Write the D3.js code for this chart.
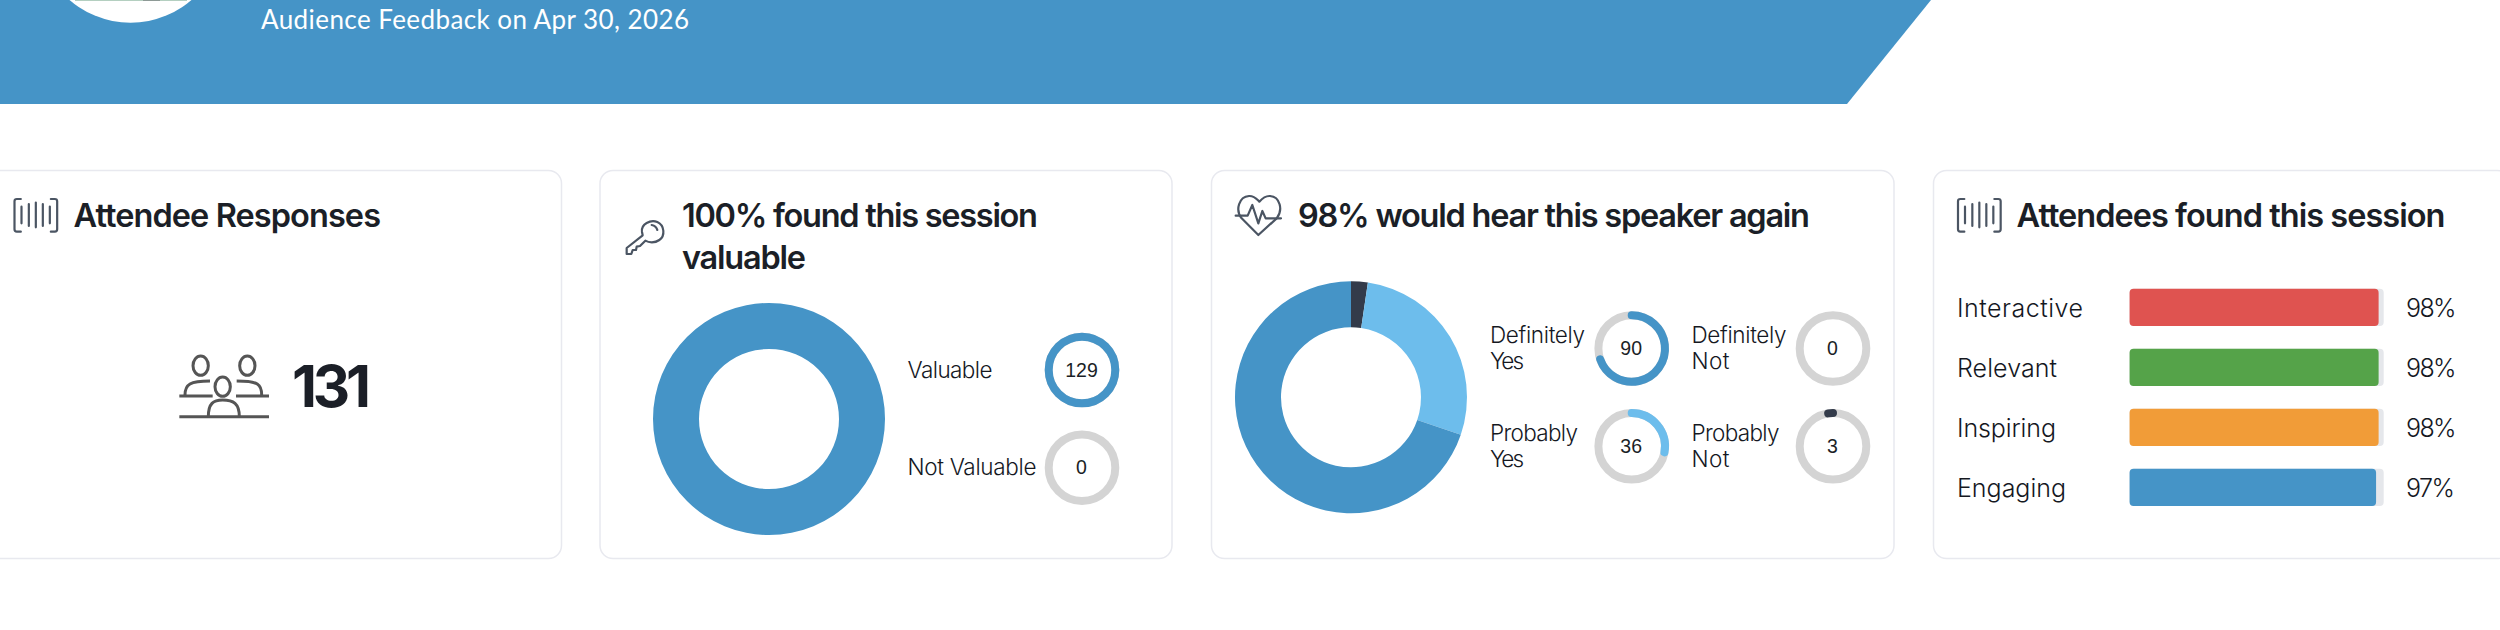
<!DOCTYPE html>
<html>
<head>
<meta charset="utf-8">
<script src="https://cdnjs.cloudflare.com/ajax/libs/d3/7.8.5/d3.min.js"></script>
<style>
  html, body { margin: 0; padding: 0; background: #fff; overflow: hidden; }
  svg { display: block; }
  text { font-family: Inter, sans-serif; fill: #1b1f27; }
  .title { font-size: 32.5px; font-weight: 600; }
  .label { font-size: 22.5px; font-weight: 300; fill: #15181f; }
  .rowlabel { font-size: 25px; font-weight: 300; fill: #15181f; }
  .num { font-family: "Liberation Sans", sans-serif; font-size: 19.5px; text-anchor: middle; }
  .icon { fill: none; stroke: #4b5563; stroke-linecap: round; stroke-linejoin: round; }
</style>
</head>
<body>
<svg id="chart" width="2500" height="630"></svg>
<script>
// Survey figures
const subtitle = "Audience Feedback on Apr 30, 2026";
const responses = 131;

const valueTitle = ["100% found this session", "valuable"];
const valueLabels = ["Valuable", "Not Valuable"];
const valueCounts = [129, 0];
const valueTotal = 129;

const againTitle = "98% would hear this speaker again";
const againLabels = [["Definitely", "Yes"], ["Probably", "Yes"], ["Definitely", "Not"], ["Probably", "Not"]];
const againCounts = [90, 36, 0, 3];
const againColors = ["#4594c7", "#6dbdec", "#d4d4d4", "#333b4a"];
const againTotal = 129;

const foundTitle = "Attendees found this session";
const foundLabels = ["Interactive", "Relevant", "Inspiring", "Engaging"];
const foundPercents = [98, 98, 98, 97];
const foundColors = ["#df5350", "#55a349", "#f19c38", "#4594c7"];

const BLUE = "#4594c7", GREY = "#d4d4d4", TRACK = "#e5e7eb";

const svg = d3.select("#chart");

// Text squeezed or stretched to a known run length
function put(parent, str, x, y, cls, len) {
  const t = parent.append("text").attr("x", x).attr("y", y).attr("class", cls).text(str);
  if (len) t.attr("textLength", len).attr("lengthAdjust", "spacing");
  return t;
}

// Header band
svg.append("path")
  .attr("d", d3.line()([[0, 0], [1931, 0], [1847, 104], [0, 104]]) + "Z")
  .attr("fill", BLUE);
svg.append("circle").attr("cx", 130.5).attr("cy", -70.6).attr("r", 93.3).attr("fill", "#fff");
svg.append("rect").attr("x", 75).attr("y", 0).attr("width", 112).attr("height", 1).attr("fill", "#b4cfc0");
svg.append("rect").attr("x", 143).attr("y", 0).attr("width", 17).attr("height", 1).attr("fill", "#8e9a96");
put(svg, subtitle, 261, 29, "", 428)
  .style("font-family", "Lato, sans-serif").style("font-size", "26px").style("font-weight", 400).style("fill", "#fff");

// Cards
const cards = [[-20, 561], [599.5, 1171.5], [1211, 1893.5], [1933, 2510]];
svg.selectAll("rect.card").data(cards).join("rect").attr("class", "card")
  .attr("x", d => d[0] + 0.5).attr("y", 170.5)
  .attr("width", d => d[1] - d[0]).attr("height", 388).attr("rx", 13)
  .attr("fill", "#fff").attr("stroke", "#e8e9ef").attr("stroke-width", 1.5);

// Icons, drawn on a 3x grid and scaled down
function icon(x, y, sw) {
  return svg.append("g").attr("class", "icon")
    .attr("transform", `translate(${x},${y}) scale(${1 / 3})`)
    .attr("stroke-width", sw * 3);
}
function barsIcon(x) {
  const g = icon(x, 190, 2.2);
  g.append("path").attr("d", "M22,27 L10,27 Q3,27 3,34 L3,118 Q3,125 10,125 L22,125");
  g.append("path").attr("d", "M112,27 L124,27 Q131,27 131,34 L131,118 Q131,125 124,125 L112,125");
  [[24, 50, 100], [46, 42, 108], [67, 38, 112], [88, 42, 108], [109, 50, 100]].forEach(b =>
    g.append("path").attr("d", `M${b[0]},${b[1]} L${b[0]},${b[2]}`));
}
barsIcon(13.5);
barsIcon(1957);

const keyIcon = icon(610, 210, 2.2);
keyIcon.append("path").attr("d", "M96,66 C92,42 122,28 142,36 C164,46 166,78 148,90 C134,100 116,98 106,92 L90,108 L80,110 L78,120 L68,120 L64,132 L50,132 L50,114 L98,76 Z");
keyIcon.append("path").attr("d", "M125,45 C135,47 140,52 142,60");

const heartIcon = icon(1225, 185, 2.2);
heartIcon.append("path").attr("d", "M100,150 L50,100 C30,75 42,35 72,33 C88,32 95,42 103,50 C110,42 120,32 135,33 C165,35 175,75 155,100 Z");
heartIcon.append("path").attr("d", "M32,92 L68,92 L82,60 L100,115 L112,78 L122,100 L168,100");

const peopleIcon = icon(170, 345, 3).style("stroke", "#555").style("stroke-linecap", "butt");
[[92, 62], [232, 62], [158, 125]].forEach(h =>
  peopleIcon.append("ellipse").attr("cx", h[0]).attr("cy", h[1]).attr("rx", 23).attr("ry", 29));
peopleIcon.append("path").attr("d", "M45,150 C45,118 60,108 120,108");
peopleIcon.append("path").attr("d", "M200,108 C265,108 275,118 275,150");
peopleIcon.append("path").attr("d", "M28,153 L128,153 M198,153 L297,153 M28,215 L297,215");
peopleIcon.append("path").attr("d", "M115,215 C115,175 130,165 158,165 C190,165 208,175 208,215");

// Card titles
put(svg, "Attendee Responses", 73.5, 226.7, "title", 307.5);
put(svg, valueTitle[0], 682, 226.7, "title", 356);
put(svg, valueTitle[1], 682, 269, "title", 124);
put(svg, againTitle, 1298, 226.7, "title", 512);
put(svg, foundTitle, 2016.5, 226.7, "title", 429);

// Response count
put(svg, responses, 292, 406.7, "", 79)
  .style("font-size", "58px").style("font-weight", 700);

// Donuts
const RO = 116, RI = 70;
const pie = d3.pie().sort(null).value(d => d.v);
const arcGen = d3.arc().innerRadius(RI).outerRadius(RO);

function donut(cx, cy, rows) {
  svg.append("g").attr("transform", `translate(${cx},${cy})`)
    .selectAll("path").data(pie(rows)).join("path")
    .attr("d", arcGen).attr("fill", d => d.data.c);
}
donut(769, 419, [{ v: valueCounts[0], c: BLUE }, { v: valueCounts[1], c: GREY }]);
// Clockwise from twelve o'clock: smallest answers first
donut(1351, 397.3, [3, 2, 1, 0].map(i => ({ v: againCounts[i], c: againColors[i] })));

// Small gauge rings with a rounded value stroke
const RING_R = 33.3, RING_W = 8;
function ring(cx, cy, value, total, color, backward) {
  const angle = d3.scaleLinear().domain([0, total]).range([0, 2 * Math.PI]);
  const g = svg.append("g").attr("transform", `translate(${cx},${cy})`);
  g.append("circle").attr("r", RING_R).attr("fill", "none").attr("stroke", GREY).attr("stroke-width", RING_W);
  if (value > 0) {
    if (value >= total) {
      g.append("circle").attr("r", RING_R).attr("fill", "none").attr("stroke", color).attr("stroke-width", RING_W);
    } else {
      const a = angle(value), top = -Math.PI / 2;
      const p = d3.path();
      if (backward) p.arc(0, 0, RING_R, top - a, top);
      else p.arc(0, 0, RING_R, top, top + a);
      g.append("path").attr("d", p.toString()).attr("fill", "none")
        .attr("stroke", color).attr("stroke-width", RING_W).attr("stroke-linecap", "round");
    }
  }
  g.append("text").attr("class", "num").attr("y", 6.5).attr("x", -0.5).text(value);
}

// Card two legend
const valueRowY = [370, 467.7];
valueLabels.forEach((l, i) => {
  put(svg, l, 907.5, valueRowY[i] + 7.5, "label", i ? 129 : 85);
  ring(1082, valueRowY[i], valueCounts[i], valueTotal, BLUE);
});

// Card three legend
const colX = [1490, 1691.5], ringX = [1631.7, 1833], rowY = [348.5, 446.3];
const nameLens = [[95, 34], [88, 34], [95, 38], [88, 38]];
againLabels.forEach((l, i) => {
  const c = i >> 1, r = i & 1;
  put(svg, l[0], colX[c], rowY[r] - 5.5, "label", nameLens[i][0]);
  put(svg, l[1], colX[c], rowY[r] + 20.8, "label", nameLens[i][1]);
  ring(ringX[c], rowY[r], againCounts[i], againTotal, againColors[i], againCounts[i] > 0 && againCounts[i] < 10);
});

// Card four bars
const x = d3.scaleLinear().domain([0, 100]).range([2129.6, 2383.7]);
const y = d3.scaleBand().domain(foundLabels).range([288.7, 506]).paddingInner(22.7 / 60).paddingOuter(0);
const rowLens = [126, 100, 99, 109];
foundLabels.forEach((l, i) => {
  const yy = y(l), h = y.bandwidth();
  svg.append("rect").attr("x", x(0)).attr("y", yy).attr("width", x(100) - x(0)).attr("height", h).attr("rx", 4).attr("fill", TRACK);
  svg.append("rect").attr("x", x(0)).attr("y", yy).attr("width", x(foundPercents[i]) - x(0)).attr("height", h).attr("rx", 4).attr("fill", foundColors[i]);
  put(svg, l, 1957, yy + 28, "rowlabel", rowLens[i]);
  put(svg, foundPercents[i] + "%", 2406, yy + 28, "rowlabel", foundPercents[i] === 97 ? 49 : 50.5);
});
</script>
</body>
</html>
